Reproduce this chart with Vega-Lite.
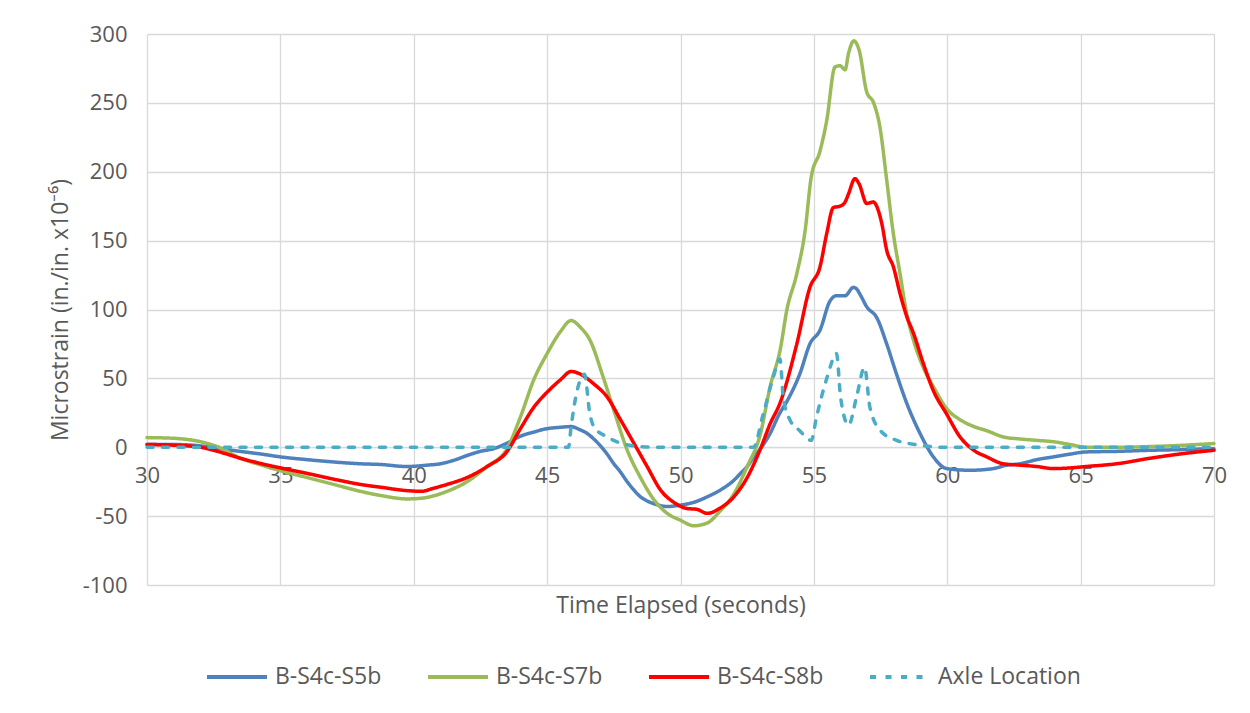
{
  "$schema": "https://vega.github.io/schema/vega-lite/v6.json",
  "width": 1067,
  "height": 551,
  "autosize": {"type": "none"},
  "padding": {"left": 147, "top": 34, "right": 36, "bottom": 128},
  "background": "white",
  "config": {
    "view": {"stroke": null},
    "font": "Open Sans",
    "axis": {"labelFont": "Open Sans", "titleFont": "Open Sans", "labelColor": "#595959", "titleColor": "#595959", "titleFontWeight": "normal", "gridColor": "#d9d9d9", "gridWidth": 1.3, "domainColor": "#d9d9d9", "ticks": false}
  },
  "data": {"values": [
    {"s":"B-S4c-S5b","t":30,"v":2},{"s":"B-S4c-S5b","t":31,"v":2},{"s":"B-S4c-S5b","t":32,"v":1},{"s":"B-S4c-S5b","t":32.7,"v":-1},{"s":"B-S4c-S5b","t":33.5,"v":-3},{"s":"B-S4c-S5b","t":34.3,"v":-5},{"s":"B-S4c-S5b","t":35,"v":-7},{"s":"B-S4c-S5b","t":36,"v":-9},{"s":"B-S4c-S5b","t":37.2,"v":-11},{"s":"B-S4c-S5b","t":38,"v":-12},{"s":"B-S4c-S5b","t":38.75,"v":-12.5},{"s":"B-S4c-S5b","t":39.75,"v":-14},{"s":"B-S4c-S5b","t":40.5,"v":-13},{"s":"B-S4c-S5b","t":41,"v":-12},{"s":"B-S4c-S5b","t":41.5,"v":-9.5},{"s":"B-S4c-S5b","t":42,"v":-6},{"s":"B-S4c-S5b","t":42.5,"v":-3},{"s":"B-S4c-S5b","t":43,"v":-1},{"s":"B-S4c-S5b","t":43.5,"v":3},{"s":"B-S4c-S5b","t":44,"v":8},{"s":"B-S4c-S5b","t":44.5,"v":11},{"s":"B-S4c-S5b","t":45,"v":13.5},{"s":"B-S4c-S5b","t":45.5,"v":14.5},{"s":"B-S4c-S5b","t":45.9,"v":15},{"s":"B-S4c-S5b","t":46.2,"v":13},{"s":"B-S4c-S5b","t":46.5,"v":10},{"s":"B-S4c-S5b","t":46.75,"v":6},{"s":"B-S4c-S5b","t":47,"v":1},{"s":"B-S4c-S5b","t":47.25,"v":-5},{"s":"B-S4c-S5b","t":47.5,"v":-12},{"s":"B-S4c-S5b","t":47.75,"v":-18},{"s":"B-S4c-S5b","t":48,"v":-25},{"s":"B-S4c-S5b","t":48.25,"v":-31},{"s":"B-S4c-S5b","t":48.5,"v":-36},{"s":"B-S4c-S5b","t":48.75,"v":-39},{"s":"B-S4c-S5b","t":49,"v":-41},{"s":"B-S4c-S5b","t":49.5,"v":-43},{"s":"B-S4c-S5b","t":50,"v":-42},{"s":"B-S4c-S5b","t":50.5,"v":-40},{"s":"B-S4c-S5b","t":51,"v":-36},{"s":"B-S4c-S5b","t":51.5,"v":-31},{"s":"B-S4c-S5b","t":52,"v":-24},{"s":"B-S4c-S5b","t":52.25,"v":-19},{"s":"B-S4c-S5b","t":52.5,"v":-14},{"s":"B-S4c-S5b","t":52.75,"v":-7},{"s":"B-S4c-S5b","t":53,"v":-1},{"s":"B-S4c-S5b","t":53.36,"v":10},{"s":"B-S4c-S5b","t":53.7,"v":24},{"s":"B-S4c-S5b","t":53.98,"v":33},{"s":"B-S4c-S5b","t":54.48,"v":53.6},{"s":"B-S4c-S5b","t":54.85,"v":75},{"s":"B-S4c-S5b","t":55.23,"v":85},{"s":"B-S4c-S5b","t":55.6,"v":106},{"s":"B-S4c-S5b","t":55.85,"v":110},{"s":"B-S4c-S5b","t":56.17,"v":110},{"s":"B-S4c-S5b","t":56.48,"v":116},{"s":"B-S4c-S5b","t":56.6,"v":115},{"s":"B-S4c-S5b","t":56.73,"v":111},{"s":"B-S4c-S5b","t":56.98,"v":102},{"s":"B-S4c-S5b","t":57.36,"v":94},{"s":"B-S4c-S5b","t":57.73,"v":75},{"s":"B-S4c-S5b","t":58.1,"v":53},{"s":"B-S4c-S5b","t":58.48,"v":32},{"s":"B-S4c-S5b","t":58.98,"v":10},{"s":"B-S4c-S5b","t":59.48,"v":-7},{"s":"B-S4c-S5b","t":59.98,"v":-15.5},{"s":"B-S4c-S5b","t":60.85,"v":-16.7},{"s":"B-S4c-S5b","t":61.73,"v":-15.5},{"s":"B-S4c-S5b","t":62.23,"v":-13},{"s":"B-S4c-S5b","t":62.73,"v":-12},{"s":"B-S4c-S5b","t":63.36,"v":-9},{"s":"B-S4c-S5b","t":63.98,"v":-7},{"s":"B-S4c-S5b","t":64.6,"v":-5},{"s":"B-S4c-S5b","t":65.2,"v":-3.4},{"s":"B-S4c-S5b","t":66.35,"v":-3},{"s":"B-S4c-S5b","t":67.6,"v":-2.2},{"s":"B-S4c-S5b","t":68.85,"v":-1.7},{"s":"B-S4c-S5b","t":70,"v":-1},

    {"s":"B-S4c-S7b","t":30,"v":7},{"s":"B-S4c-S7b","t":31,"v":6.5},{"s":"B-S4c-S7b","t":32,"v":4},{"s":"B-S4c-S7b","t":32.3,"v":2.5},{"s":"B-S4c-S7b","t":32.7,"v":0},{"s":"B-S4c-S7b","t":33.5,"v":-8},{"s":"B-S4c-S7b","t":34.3,"v":-13},{"s":"B-S4c-S7b","t":35,"v":-17},{"s":"B-S4c-S7b","t":36,"v":-22},{"s":"B-S4c-S7b","t":37.2,"v":-28},{"s":"B-S4c-S7b","t":38,"v":-32},{"s":"B-S4c-S7b","t":38.75,"v":-35},{"s":"B-S4c-S7b","t":39.75,"v":-37.5},{"s":"B-S4c-S7b","t":40.3,"v":-37},{"s":"B-S4c-S7b","t":40.6,"v":-36},{"s":"B-S4c-S7b","t":41.25,"v":-32},{"s":"B-S4c-S7b","t":42,"v":-25},{"s":"B-S4c-S7b","t":42.75,"v":-14},{"s":"B-S4c-S7b","t":43.5,"v":-1},{"s":"B-S4c-S7b","t":44,"v":22},{"s":"B-S4c-S7b","t":44.5,"v":49},{"s":"B-S4c-S7b","t":45,"v":68},{"s":"B-S4c-S7b","t":45.5,"v":84},{"s":"B-S4c-S7b","t":45.9,"v":92},{"s":"B-S4c-S7b","t":46.25,"v":87},{"s":"B-S4c-S7b","t":46.6,"v":78},{"s":"B-S4c-S7b","t":47.1,"v":51},{"s":"B-S4c-S7b","t":47.5,"v":27},{"s":"B-S4c-S7b","t":48,"v":-2},{"s":"B-S4c-S7b","t":48.5,"v":-22},{"s":"B-S4c-S7b","t":49,"v":-38},{"s":"B-S4c-S7b","t":49.5,"v":-48},{"s":"B-S4c-S7b","t":50,"v":-53},{"s":"B-S4c-S7b","t":50.5,"v":-57},{"s":"B-S4c-S7b","t":51,"v":-55},{"s":"B-S4c-S7b","t":51.5,"v":-46},{"s":"B-S4c-S7b","t":52,"v":-34},{"s":"B-S4c-S7b","t":52.5,"v":-14},{"s":"B-S4c-S7b","t":53,"v":10},{"s":"B-S4c-S7b","t":53.36,"v":44},{"s":"B-S4c-S7b","t":53.75,"v":72},{"s":"B-S4c-S7b","t":53.98,"v":99},{"s":"B-S4c-S7b","t":54.36,"v":126},{"s":"B-S4c-S7b","t":54.67,"v":157},{"s":"B-S4c-S7b","t":54.9,"v":196},{"s":"B-S4c-S7b","t":55.23,"v":215},{"s":"B-S4c-S7b","t":55.48,"v":237},{"s":"B-S4c-S7b","t":55.79,"v":276},{"s":"B-S4c-S7b","t":55.98,"v":277},{"s":"B-S4c-S7b","t":56.17,"v":274},{"s":"B-S4c-S7b","t":56.3,"v":286},{"s":"B-S4c-S7b","t":56.5,"v":295},{"s":"B-S4c-S7b","t":56.7,"v":288},{"s":"B-S4c-S7b","t":56.98,"v":258},{"s":"B-S4c-S7b","t":57.24,"v":250},{"s":"B-S4c-S7b","t":57.48,"v":232},{"s":"B-S4c-S7b","t":57.73,"v":194},{"s":"B-S4c-S7b","t":57.98,"v":155},{"s":"B-S4c-S7b","t":58.23,"v":126},{"s":"B-S4c-S7b","t":58.48,"v":97},{"s":"B-S4c-S7b","t":58.73,"v":78},{"s":"B-S4c-S7b","t":59.1,"v":58},{"s":"B-S4c-S7b","t":59.48,"v":44},{"s":"B-S4c-S7b","t":59.98,"v":28},{"s":"B-S4c-S7b","t":60.48,"v":20},{"s":"B-S4c-S7b","t":61,"v":15},{"s":"B-S4c-S7b","t":61.48,"v":12},{"s":"B-S4c-S7b","t":62.1,"v":7.5},{"s":"B-S4c-S7b","t":62.73,"v":6},{"s":"B-S4c-S7b","t":63.36,"v":5},{"s":"B-S4c-S7b","t":63.98,"v":4},{"s":"B-S4c-S7b","t":64.6,"v":2},{"s":"B-S4c-S7b","t":65.2,"v":0},{"s":"B-S4c-S7b","t":66.35,"v":0},{"s":"B-S4c-S7b","t":67.6,"v":0.5},{"s":"B-S4c-S7b","t":68.9,"v":1.5},{"s":"B-S4c-S7b","t":70,"v":2.7},

    {"s":"B-S4c-S8b","t":30,"v":2},{"s":"B-S4c-S8b","t":31,"v":1.5},{"s":"B-S4c-S8b","t":32,"v":0},{"s":"B-S4c-S8b","t":32.25,"v":-1},{"s":"B-S4c-S8b","t":33,"v":-5},{"s":"B-S4c-S8b","t":33.5,"v":-8},{"s":"B-S4c-S8b","t":34.3,"v":-12},{"s":"B-S4c-S8b","t":35,"v":-15},{"s":"B-S4c-S8b","t":36,"v":-19},{"s":"B-S4c-S8b","t":37.2,"v":-24},{"s":"B-S4c-S8b","t":38,"v":-27},{"s":"B-S4c-S8b","t":38.75,"v":-29},{"s":"B-S4c-S8b","t":39.75,"v":-31.5},{"s":"B-S4c-S8b","t":40.3,"v":-32},{"s":"B-S4c-S8b","t":40.7,"v":-30},{"s":"B-S4c-S8b","t":41.25,"v":-27},{"s":"B-S4c-S8b","t":42,"v":-22},{"s":"B-S4c-S8b","t":42.75,"v":-14},{"s":"B-S4c-S8b","t":43.5,"v":-3},{"s":"B-S4c-S8b","t":44,"v":13.5},{"s":"B-S4c-S8b","t":44.5,"v":29},{"s":"B-S4c-S8b","t":45,"v":40},{"s":"B-S4c-S8b","t":45.5,"v":49},{"s":"B-S4c-S8b","t":45.9,"v":55},{"s":"B-S4c-S8b","t":46.25,"v":53},{"s":"B-S4c-S8b","t":46.75,"v":46},{"s":"B-S4c-S8b","t":47.25,"v":36.5},{"s":"B-S4c-S8b","t":47.75,"v":20},{"s":"B-S4c-S8b","t":48.25,"v":3},{"s":"B-S4c-S8b","t":48.75,"v":-14},{"s":"B-S4c-S8b","t":49.25,"v":-31},{"s":"B-S4c-S8b","t":49.75,"v":-40},{"s":"B-S4c-S8b","t":50.25,"v":-44.5},{"s":"B-S4c-S8b","t":50.6,"v":-45},{"s":"B-S4c-S8b","t":51,"v":-48},{"s":"B-S4c-S8b","t":51.5,"v":-44},{"s":"B-S4c-S8b","t":52,"v":-36},{"s":"B-S4c-S8b","t":52.5,"v":-22},{"s":"B-S4c-S8b","t":53,"v":-1},{"s":"B-S4c-S8b","t":53.36,"v":17},{"s":"B-S4c-S8b","t":53.73,"v":32},{"s":"B-S4c-S8b","t":54.36,"v":75},{"s":"B-S4c-S8b","t":54.85,"v":116},{"s":"B-S4c-S8b","t":55.23,"v":131},{"s":"B-S4c-S8b","t":55.48,"v":155},{"s":"B-S4c-S8b","t":55.73,"v":174},{"s":"B-S4c-S8b","t":55.98,"v":175},{"s":"B-S4c-S8b","t":56.17,"v":178},{"s":"B-S4c-S8b","t":56.3,"v":184},{"s":"B-S4c-S8b","t":56.54,"v":195},{"s":"B-S4c-S8b","t":56.7,"v":191},{"s":"B-S4c-S8b","t":56.98,"v":177},{"s":"B-S4c-S8b","t":57.23,"v":178},{"s":"B-S4c-S8b","t":57.43,"v":171},{"s":"B-S4c-S8b","t":57.55,"v":162},{"s":"B-S4c-S8b","t":57.73,"v":143},{"s":"B-S4c-S8b","t":57.98,"v":131},{"s":"B-S4c-S8b","t":58.23,"v":111.5},{"s":"B-S4c-S8b","t":58.48,"v":95},{"s":"B-S4c-S8b","t":58.73,"v":83},{"s":"B-S4c-S8b","t":59.1,"v":61},{"s":"B-S4c-S8b","t":59.48,"v":41},{"s":"B-S4c-S8b","t":59.98,"v":24},{"s":"B-S4c-S8b","t":60.48,"v":7.5},{"s":"B-S4c-S8b","t":60.98,"v":-2},{"s":"B-S4c-S8b","t":61.48,"v":-7},{"s":"B-S4c-S8b","t":62.1,"v":-12},{"s":"B-S4c-S8b","t":62.73,"v":-13},{"s":"B-S4c-S8b","t":63.36,"v":-14},{"s":"B-S4c-S8b","t":63.98,"v":-15.5},{"s":"B-S4c-S8b","t":64.6,"v":-15},{"s":"B-S4c-S8b","t":65.2,"v":-14},{"s":"B-S4c-S8b","t":66.35,"v":-12},{"s":"B-S4c-S8b","t":67.6,"v":-8},{"s":"B-S4c-S8b","t":68.85,"v":-4.6},{"s":"B-S4c-S8b","t":70,"v":-2.2},

    {"s":"Axle Location","t":30,"v":0},{"s":"Axle Location","t":45.8,"v":0},{"s":"Axle Location","t":45.9,"v":15},{"s":"Axle Location","t":46.1,"v":39},{"s":"Axle Location","t":46.4,"v":53},{"s":"Axle Location","t":46.6,"v":24.5},{"s":"Axle Location","t":46.75,"v":15},{"s":"Axle Location","t":47.25,"v":7.5},{"s":"Axle Location","t":47.75,"v":3},{"s":"Axle Location","t":48.5,"v":0.5},{"s":"Axle Location","t":49,"v":0},{"s":"Axle Location","t":52.73,"v":0},{"s":"Axle Location","t":53.1,"v":24},{"s":"Axle Location","t":53.48,"v":51},{"s":"Axle Location","t":53.73,"v":64},{"s":"Axle Location","t":53.85,"v":36.5},{"s":"Axle Location","t":54.1,"v":20},{"s":"Axle Location","t":54.47,"v":12},{"s":"Axle Location","t":54.9,"v":5},{"s":"Axle Location","t":55.1,"v":22},{"s":"Axle Location","t":55.5,"v":51},{"s":"Axle Location","t":55.85,"v":68},{"s":"Axle Location","t":56.0,"v":36.5},{"s":"Axle Location","t":56.3,"v":16},{"s":"Axle Location","t":56.6,"v":36.5},{"s":"Axle Location","t":56.9,"v":58},{"s":"Axle Location","t":57.1,"v":29},{"s":"Axle Location","t":57.5,"v":12},{"s":"Axle Location","t":58.1,"v":5},{"s":"Axle Location","t":59.0,"v":1.5},{"s":"Axle Location","t":59.75,"v":0},{"s":"Axle Location","t":70,"v":0}
  ]},
  "mark": {"type": "line", "strokeWidth": 3.5, "strokeCap": "round", "strokeJoin": "round", "interpolate": "monotone"},
  "encoding": {
    "x": {"field": "t", "type": "quantitative",
      "scale": {"domain": [30, 70], "nice": false, "zero": false},
      "axis": {"values": [30, 35, 40, 45, 50, 55, 60, 65, 70], "offset": -137.75, "labelFontSize": 22, "labelPadding": 18, "title": "Time Elapsed (seconds)", "titleFontSize": 23, "titleY": 158, "titleBaseline": "middle", "domain": true, "labelFlush": false}},
    "y": {"field": "v", "type": "quantitative",
      "scale": {"domain": [-100, 300], "nice": false},
      "axis": {"values": [-100, -50, 0, 50, 100, 150, 200, 250, 300], "labelExpr": "replace(datum.label, '−', '-')", "labelFontSize": 22, "labelPadding": 20, "title": "Microstrain (in./in. x10⁻⁶)", "titleFontSize": 23, "titlePadding": 10, "domain": false}},
    "color": {"field": "s", "type": "nominal", "title": null,
      "scale": {"domain": ["B-S4c-S5b", "B-S4c-S7b", "B-S4c-S8b", "Axle Location"], "range": ["#4F81BD", "#9BBB59", "#FF0000", "#4BACC6"]},
      "legend": {"orient": "none", "direction": "horizontal", "legendX": 58, "legendY": 611, "symbolType": "stroke", "symbolSize": 3600, "symbolStrokeWidth": 4, "labelFontSize": 23, "labelColor": "#595959", "labelFont": "Open Sans", "columnPadding": 38, "labelOffset": 6}},
    "strokeDash": {"field": "s", "type": "nominal", "title": null,
      "scale": {"domain": ["B-S4c-S5b", "B-S4c-S7b", "B-S4c-S8b", "Axle Location"], "range": [[1, 0], [1, 0], [1, 0], [6, 9.5]]},
      "legend": {"orient": "none", "direction": "horizontal", "legendX": 58, "legendY": 611, "symbolType": "stroke", "symbolSize": 3600, "symbolStrokeWidth": 4, "labelFontSize": 23, "labelColor": "#595959", "labelFont": "Open Sans", "columnPadding": 38, "labelOffset": 6}}
  }
}
